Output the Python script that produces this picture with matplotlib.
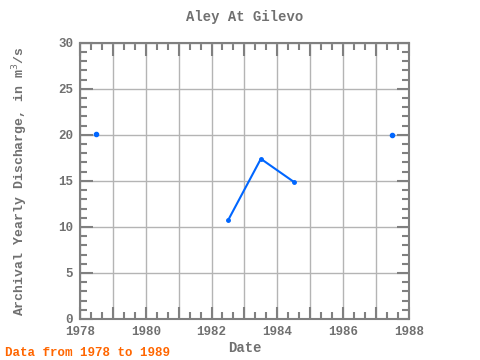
"""
Aley At Gilevo - archival yearly discharge.
"""

import matplotlib
matplotlib.use("Agg")
import matplotlib.pyplot as plt
from matplotlib.ticker import MultipleLocator

# Yearly discharge values.
years = [1978.5, 1982.5, 1983.5, 1984.5, 1987.5]
discharge = [20.1, 10.7, 17.4, 14.9, 20.0]

x_ticks = list(range(1978, 1989))
x_labels = [str(y) if y % 2 == 0 else "" for y in x_ticks]
y_ticks = [0, 5, 10, 15, 20, 25, 30]

plt.rcParams["font.family"] = ["Liberation Mono", "DejaVu Sans Mono"]
text_color = "#707070"
spine_color = "#808080"
line_color = "#0066ff"

fig = plt.figure(figsize=(4.8, 3.6), dpi=100)
ax = fig.add_axes([0.1667, 0.114, 0.685, 0.767])

# Connected segment and isolated points.
ax.plot(years[1:4], discharge[1:4], color=line_color, linewidth=1.5,
        marker="o", markersize=2.5)
ax.plot([years[0], years[4]], [discharge[0], discharge[4]], linestyle="none",
        color=line_color, marker="o", markersize=3)

ax.set_xlim(1978, 1988)
ax.set_ylim(0, 30)
ax.set_xticks(x_ticks)
ax.set_xticklabels(x_labels)
ax.set_yticks(y_ticks)
ax.xaxis.set_minor_locator(MultipleLocator(1 / 3))
ax.yaxis.set_minor_locator(MultipleLocator(1))

# Gridlines at every year and every 5 units.
ax.grid(True, which="major", color="#b4b4b4", linewidth=1)
ax.set_axisbelow(True)

ax.tick_params(axis="both", which="major", direction="in", length=9,
               width=1.5, color=spine_color, labelsize=9,
               labelcolor=text_color, top=True, right=True, pad=5)
ax.tick_params(axis="both", which="minor", direction="in", length=5,
               width=1.5, color=spine_color, top=True, right=True)
for lbl in ax.get_xticklabels() + ax.get_yticklabels():
    lbl.set_fontweight("bold")

for sp in ax.spines.values():
    sp.set_color(spine_color)
    sp.set_linewidth(1.5)

ax.set_title("Aley At Gilevo", fontsize=10, color=text_color,
             fontweight="bold", pad=16)
ax.set_xlabel("Date", fontsize=10, color=text_color, fontweight="bold",
              labelpad=2)
ax.set_ylabel("Archival Yearly Discharge, in m$^3$/s", fontsize=9.5,
              color=text_color, fontweight="bold", labelpad=20)

fig.text(0.01, 0.01, "Data from 1978 to 1989", color="#ff6600",
         fontsize=9, fontweight="bold")

plt.savefig("out.png", dpi=100)
